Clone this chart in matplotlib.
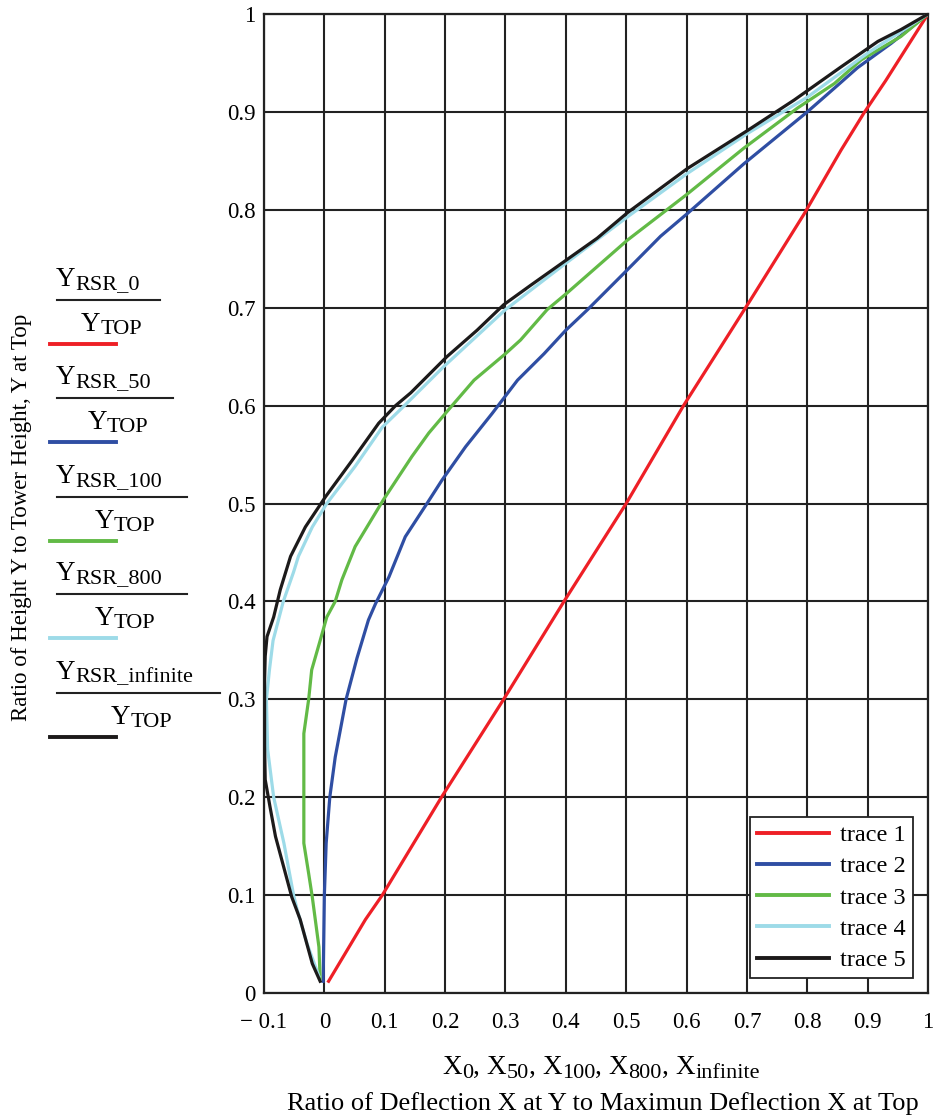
import matplotlib
matplotlib.use("Agg")
import matplotlib.pyplot as plt
from matplotlib.lines import Line2D

plt.rcParams["font.family"] = ["Liberation Serif", "DejaVu Serif"]

# ---- deflection profiles: X / X_top versus Y / Y_top ----
x_rsr0 = [0.007, 0.038, 0.068, 0.096, 0.194, 0.297, 0.397, 0.500, 0.595, 0.706,
          0.795, 0.856, 0.894, 0.930, 0.966, 1.0]
y_rsr0 = [0.012, 0.044, 0.075, 0.100, 0.200, 0.300, 0.400, 0.500, 0.600, 0.708,
          0.796, 0.861, 0.899, 0.932, 0.967, 1.0]

x_rsr50 = [-0.002, 0.000, 0.003, 0.009, 0.018, 0.036, 0.054, 0.073, 0.085, 0.107,
           0.134, 0.170, 0.195, 0.234, 0.278, 0.320, 0.364, 0.400, 0.436, 0.496,
           0.557, 0.601, 0.695, 0.800, 0.850, 0.883, 0.939, 1.0]
y_rsr50 = [0.012, 0.100, 0.153, 0.200, 0.241, 0.300, 0.342, 0.381, 0.398, 0.425,
           0.466, 0.500, 0.524, 0.558, 0.592, 0.626, 0.653, 0.677, 0.698, 0.735,
           0.773, 0.796, 0.847, 0.900, 0.927, 0.945, 0.970, 1.0]

x_rsr100 = [-0.007, -0.009, -0.020, -0.026, -0.034, -0.034, -0.034, -0.026, -0.021, -0.007,
            0.004, 0.018, 0.029, 0.051, 0.098, 0.145, 0.173, 0.206, 0.248, 0.300,
            0.325, 0.369, 0.402, 0.452, 0.502, 0.599, 0.695, 0.784, 0.845, 0.889,
            0.955, 1.0]
y_rsr100 = [0.015, 0.047, 0.098, 0.122, 0.153, 0.200, 0.265, 0.300, 0.330, 0.360,
            0.384, 0.400, 0.422, 0.456, 0.504, 0.548, 0.572, 0.596, 0.626, 0.653,
            0.667, 0.698, 0.715, 0.742, 0.769, 0.815, 0.863, 0.904, 0.929, 0.953,
            0.977, 1.0]

x_rsr800 = [-0.009, -0.029, -0.045, -0.051, -0.067, -0.084, -0.094, -0.096, -0.091, -0.085,
            -0.068, -0.051, -0.043, -0.020, 0.004, 0.051, 0.096, 0.131, 0.198, 0.300,
            0.397, 0.507, 0.601, 0.701, 0.800, 0.900, 1.0]
y_rsr800 = [0.017, 0.051, 0.085, 0.100, 0.153, 0.200, 0.249, 0.300, 0.330, 0.360,
            0.400, 0.430, 0.446, 0.476, 0.500, 0.538, 0.578, 0.599, 0.640, 0.698,
            0.744, 0.795, 0.837, 0.878, 0.915, 0.960, 1.0]

x_rsrinf = [-0.007, -0.020, -0.040, -0.054, -0.081, -0.090, -0.098, -0.099, -0.099, -0.098,
            -0.095, -0.084, -0.073, -0.056, -0.0315, 0.002, 0.046, 0.090, 0.118, 0.143,
            0.203, 0.253, 0.297, 0.342, 0.397, 0.452, 0.502, 0.601, 0.701, 0.778,
            0.856, 0.917, 0.955, 1.0]
y_rsrinf = [0.012, 0.030, 0.075, 0.098, 0.160, 0.190, 0.218, 0.252, 0.320, 0.344,
            0.364, 0.384, 0.412, 0.446, 0.476, 0.507, 0.544, 0.582, 0.600, 0.613,
            0.650, 0.677, 0.703, 0.723, 0.747, 0.771, 0.797, 0.842, 0.881, 0.912,
            0.946, 0.972, 0.984, 1.0]

trace_labels = ["trace 1", "trace 2", "trace 3", "trace 4", "trace 5"]
trace_colors = ["#ee1f26", "#2f4ea3", "#62ba46", "#9ddbe8", "#1c1a1a"]
ratio_names = ["RSR_0", "RSR_50", "RSR_100", "RSR_800", "RSR_infinite"]
x_subscripts = ["0", "50", "100", "800", "infinite"]
x_ticks = [-0.1, 0, 0.1, 0.2, 0.3, 0.4, 0.5, 0.6, 0.7, 0.8, 0.9, 1]
x_tick_labels = ["\u2212 0.1", "0", "0.1", "0.2", "0.3", "0.4", "0.5", "0.6", "0.7", "0.8", "0.9", "1"]
y_ticks = [0, 0.1, 0.2, 0.3, 0.4, 0.5, 0.6, 0.7, 0.8, 0.9, 1]
y_tick_labels = ["0", "0.1", "0.2", "0.3", "0.4", "0.5", "0.6", "0.7", "0.8", "0.9", "1"]

W, H = 939, 1120
fig = plt.figure(figsize=(W / 100, H / 100), dpi=100)
ax = fig.add_axes([264 / W, 1 - 993 / H, (928 - 264) / W, (993 - 14) / H])

series = [(x_rsr0, y_rsr0), (x_rsr50, y_rsr50), (x_rsr100, y_rsr100),
          (x_rsr800, y_rsr800), (x_rsrinf, y_rsrinf)]
for (xs, ys), c, lab in zip(series, trace_colors, trace_labels):
    ax.plot(xs, ys, color=c, lw=2.3, label=lab, solid_joinstyle="round", zorder=3)

ax.set_xlim(-0.1, 1)
ax.set_ylim(0, 1)
ax.set_xticks(x_ticks)
ax.set_xticklabels(x_tick_labels)
ax.set_yticks(y_ticks)
ax.set_yticklabels(y_tick_labels)
ax.tick_params(length=0, labelsize=16.5, pad=6)
ax.tick_params(axis="x", pad=14)
ax.grid(True, color="#222222", lw=1.5)
ax.set_axisbelow(True)
for s in ax.spines.values():
    s.set_color("#222222")
    s.set_linewidth(1.6)

leg = ax.legend(loc="lower right", bbox_to_anchor=(0.977, 0.015), borderaxespad=0,
                fontsize=17.5, handlelength=2.95, handletextpad=0.45, labelspacing=0.38,
                borderpad=0.3, fancybox=False, framealpha=1, edgecolor="#222222")
leg.get_frame().set_linewidth(1.3)
for h in leg.get_lines():
    h.set_linewidth(2.8)

renderer = fig.canvas.get_renderer()


def run_of_text(pieces, x_px, base_px, align="left"):
    """Lay out (text, size, drop) pieces side by side on one baseline."""
    items = []
    for txt, size, drop in pieces:
        t = fig.text(0, 0, txt, fontsize=size, va="baseline", ha="left")
        items.append((t, t.get_window_extent(renderer).width, drop))
    total = sum(w for _, w, _ in items)
    left = x_px if align == "left" else x_px - total / 2
    for t, w, drop in items:
        t.set_position((left / W, 1 - (base_px + drop) / H))
        left += w


# x-axis captions
caption = []
for i, s in enumerate(x_subscripts):
    caption.append(("X", 19.5, 0))
    caption.append((s, 16, 4))
    if i < len(x_subscripts) - 1:
        caption.append((", ", 19.5, 0))
run_of_text(caption, 601, 1074, align="center")
fig.text(603 / W, 1 - 1104 / H,
         "Ratio of Deflection X at Y to Maximun Deflection X at Top",
         ha="center", va="center", fontsize=19)

# y-axis caption
fig.text(22 / W, 1 - 517 / H, "Ratio of Height Y to Tower Height, Y at Top",
         rotation=90, ha="center", va="center", fontsize=16.5)

# fraction key on the left
bar_y = [300, 398, 497, 594, 693]
bar_right = [160, 173, 187, 187, 220]
for name, c, by, br in zip(ratio_names, trace_colors, bar_y, bar_right):
    run_of_text([("Y", 19.5, 0), (name, 16, 3)], 56, by - 14)
    fig.add_artist(Line2D([57 / W, br / W], [1 - by / H, 1 - by / H],
                          color="#222222", lw=1.5))
    run_of_text([("Y", 19.5, 0), ("TOP", 16, 3)], (57 + br) / 2 + 3, by + 31,
                align="center")
    fig.add_artist(Line2D([50 / W, 116 / W], [1 - (by + 44) / H, 1 - (by + 44) / H],
                          color=c, lw=2.8))

fig.savefig("out.png", dpi=100)
